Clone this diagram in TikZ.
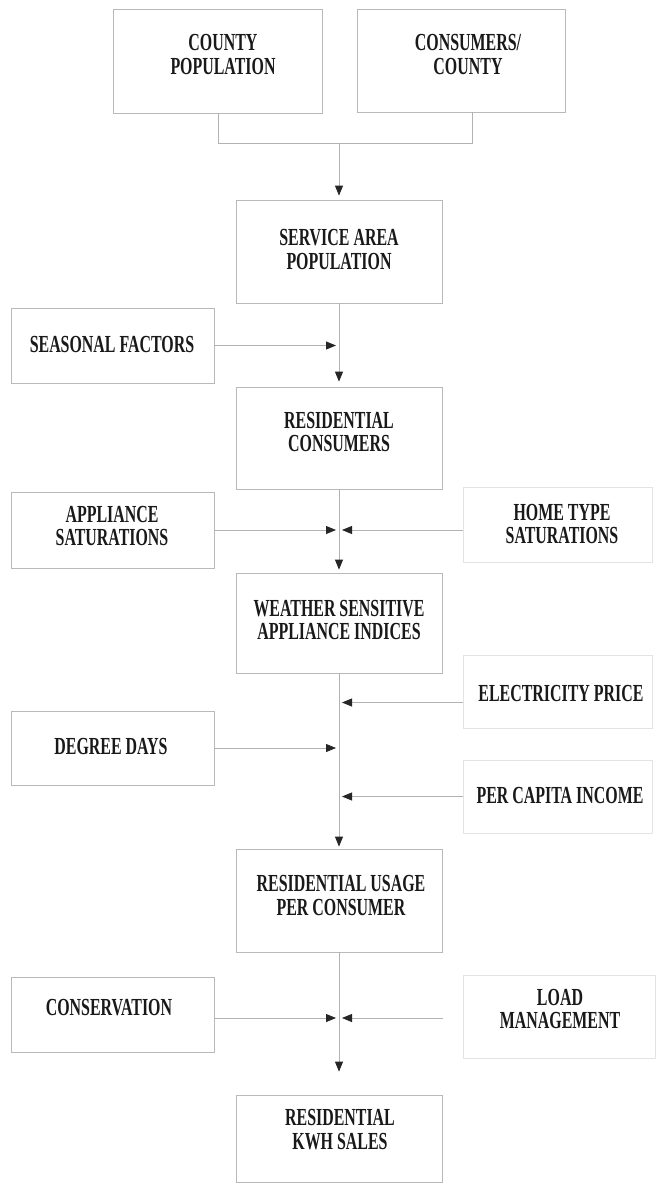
\documentclass[tikz,border=0pt]{standalone}
\usepackage{fontspec}
\setmainfont{Liberation Serif}[FakeStretch=0.65]
\usetikzlibrary{arrows.meta}
\begin{document}
\begin{tikzpicture}[x=1pt,y=-1pt,
  box/.style={draw=gray!55, line width=0.8pt, rectangle, inner sep=0pt},
  faintbox/.style={box, draw=gray!22},
  lbl/.style={align=center, inner sep=0pt, text=black!90,
              font=\fontsize{24.5}{24}\selectfont\bfseries},
  tight/.style={lbl, font=\fontsize{24.5}{23}\selectfont\bfseries},
  link/.style={draw=gray!60, line width=0.8pt},
  arr/.style={link, -{Triangle[length=10pt,width=8pt,color=black!85]}},
]
\fill[white] (0,0) rectangle (658,1184);
\useasboundingbox (0,0) rectangle (658,1184);

% boxes (centre, size)
\node[box, minimum width=209, minimum height=104] (cp) at (217.5,61) {};
\node[box, minimum width=208, minimum height=103] (cc) at (461,60.5) {};
\node[box, minimum width=206, minimum height=103] (sa) at (339,251.5) {};
\node[box, minimum width=203, minimum height=75] (sf) at (112.5,345.5) {};
\node[box, minimum width=206, minimum height=102] (rc) at (339,438) {};
\node[box, minimum width=203, minimum height=76] (ap) at (112.5,530) {};
\node[faintbox, minimum width=189, minimum height=75] (ht) at (557.5,524.5) {};
\node[box, minimum width=206, minimum height=100] (ws) at (339,623) {};
\node[faintbox, minimum width=189, minimum height=73] (ep) at (557.5,691.5) {};
\node[box, minimum width=203, minimum height=74] (dd) at (112.5,748) {};
\node[faintbox, minimum width=189, minimum height=73] (pc) at (557.5,796.5) {};
\node[box, minimum width=206, minimum height=103] (ru) at (339,900.5) {};
\node[box, minimum width=203, minimum height=75] (cv) at (112.5,1014.5) {};
\node[faintbox, minimum width=192, minimum height=83] (ld) at (559,1016.5) {};
\node[box, minimum width=206, minimum height=87] (kw) at (339,1138.5) {};

% labels
\node[lbl] (cp-t) at (223,55) {COUNTY\\POPULATION};
\node[lbl] (cc-t) at (468,55) {CONSUMERS/\\COUNTY};
\node[lbl] (sa-t) at (339,250) {SERVICE AREA\\POPULATION};
\node[lbl] (sf-t) at (112,345) {SEASONAL FACTORS};
\node[tight] (rc-t) at (339,432) {RESIDENTIAL\\CONSUMERS};
\node[tight] (ap-t) at (112,526) {APPLIANCE\\SATURATIONS};
\node[tight] (ht-t) at (562,524) {HOME TYPE\\SATURATIONS};
\node[tight] (ws-t) at (339,620) {WEATHER SENSITIVE\\APPLIANCE INDICES};
\node[lbl] (ep-t) at (561,693) {ELECTRICITY PRICE};
\node[lbl] (dd-t) at (111,746) {DEGREE DAYS};
\node[lbl] (pc-t) at (560,795) {PER CAPITA INCOME};
\node[lbl] (ru-t) at (341,895) {RESIDENTIAL USAGE\\PER CONSUMER};
\node[lbl] (cv-t) at (109,1008) {CONSERVATION};
\node[tight] (ld-t) at (560,1009) {LOAD\\MANAGEMENT};
\node[lbl] (kw-t) at (340,1130) {RESIDENTIAL\\KWH SALES};

% merge of the two county inputs
\coordinate (mL) at (218,143);
\coordinate (mR) at (472,143);
\draw[link] (cp.south -| mL) -- (mL) -- (mR) -- (mR |- cc.south);
\draw[arr, shorten >=4pt] (mL -| sa.north) -- (sa.north);

% main chain
\draw[arr, shorten >=5pt] (sa.south) -- (rc.north);
\draw[arr, shorten >=3pt] (rc.south) -- (ws.north);
\draw[arr, shorten >=2pt] (ws.south) -- (ru.north);
\draw[arr, shorten >=23pt] (ru.south) -- (kw.north);

% side inputs
\draw[arr, shorten >=3pt] (sf.east) -- (sf.east -| sa.south);
\draw[arr, shorten >=3pt] (ap.east) -- (ap.east -| rc.south);
\draw[arr, shorten >=3pt] (ap.east -| ht.west) -- (ap.east -| rc.south);
\coordinate (epin) at ([yshift=-11pt]ep.west);
\draw[arr, shorten >=3pt] (epin) -- (epin -| ws.south);
\draw[arr, shorten >=3pt] (dd.east) -- (dd.east -| ws.south);
\draw[arr, shorten >=3pt] (pc.west) -- (pc.west -| ws.south);
\coordinate (cvout) at ([yshift=-3.5pt]cv.east);
\draw[arr, shorten >=3pt] (cvout) -- (cvout -| ru.south);
\draw[arr, shorten >=3pt, shorten <=20pt] (cvout -| ld.west) -- (cvout -| ru.south);
\end{tikzpicture}
\end{document}
